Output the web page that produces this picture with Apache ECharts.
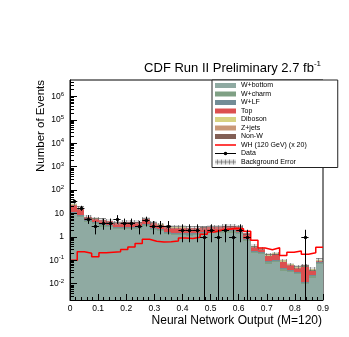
<!DOCTYPE html>
<html>
<head>
<meta charset="utf-8">
<script src="https://cdn.jsdelivr.net/npm/echarts@6/dist/echarts.min.js"></script>
<style>
html, body { margin: 0; padding: 0; background: #fff; }
#chart { width: 349px; height: 337px; }
</style>
</head>
<body>
<div id="chart"></div>
<script>
// axis ranges / binning
var X_MIN = 0, X_MAX = 0.9, N_BINS = 35;
var Y_MIN = 0.002, Y_MAX = 5e6;
var FONT = 'Liberation Sans, Arial, Helvetica, sans-serif';

// background components (events per bin), stacked bottom -> top
var wBottom = [9.4, 6.8, 4.2, 3.4, 2.7, 2.6, 2.2, 2.2, 2.1, 2.1, 2.9, 1.9, 1.7, 1.3, 1.2, 1.2, 1.1, 1.2, 1.3, 1.4, 1.4, 1.5, 1.5, 1.3, 0.64, 0.2, 0.18, 0.072, 0.08, 0.036, 0.032, 0.026, 0.0096, 0.018, 0.068];
var wCharm = [1.2, 0.85, 0.5, 0.4, 0.35, 0.3, 0.25, 0.25, 0.25, 0.25, 0.35, 0.25, 0.2, 0.15, 0.15, 0.15, 0.15, 0.15, 0.17, 0.15, 0.17, 0.2, 0.2, 0.17, 0.08, 0.025, 0.02, 0.009, 0.01, 0.0045, 0.004, 0.003, 0.0012, 0.0025, 0.0085];
var wLF = [1.2, 0.85, 0.5, 0.4, 0.35, 0.3, 0.25, 0.25, 0.25, 0.25, 0.35, 0.25, 0.2, 0.15, 0.15, 0.15, 0.15, 0.15, 0.18, 0.15, 0.18, 0.2, 0.2, 0.18, 0.08, 0.025, 0.02, 0.009, 0.01, 0.0045, 0.004, 0.003, 0.0012, 0.0025, 0.0085];
var topQuark = [11.5, 8.2, 1.85, 1.85, 1.65, 1.4, 1.2, 1.58, 1.66, 1.58, 2.2, 1.47, 1.2, 1.0, 1.0, 1.0, 0.92, 0.87, 0.78, 0.92, 0.87, 1.01, 1.01, 0.97, 0.64, 0.115, 0.08, 0.066, 0.077, 0.041, 0.02, 0.016, 0.04, 0.013, 0.012];
var diboson = [0.9, 0.6, 0.12, 0.12, 0.11, 0.09, 0.08, 0.1, 0.11, 0.1, 0.15, 0.1, 0.08, 0.07, 0.07, 0.07, 0.06, 0.06, 0.06, 0.06, 0.06, 0.07, 0.07, 0.07, 0.05, 0.03, 0.018, 0.02, 0.02, 0.012, 0.006, 0.005, 0.007, 0.005, 0.003];
var zJets = [0.18, 0.13, 0.02, 0.02, 0.025, 0.01, 0.012, 0.015, 0.02, 0.015, 0.03, 0.02, 0.015, 0.01, 0.01, 0.01, 0.01, 0.01, 0.007, 0.01, 0.01, 0.012, 0.01, 0.01, 0.006, 0.003, 0.0015, 0.0015, 0.0015, 0.001, 0.0005, 0.0005, 0.0005, 0.0005, 0.0005];
var nonW = [0.12, 0.08, 0.015, 0.015, 0.015, 0.01, 0.01, 0.01, 0.015, 0.01, 0.02, 0.015, 0.01, 0.01, 0.01, 0.01, 0.008, 0.008, 0.007, 0.008, 0.008, 0.008, 0.01, 0.008, 0.004, 0.002, 0.001, 0.001, 0.001, 0.0005, 0.0005, 0.0003, 0.0005, 0.0003, 0.0003];
// total background uncertainty (absolute)
var bkgErr = [4.4, 3.2, 1.3, 1.1, 0.95, 0.85, 0.72, 0.8, 0.8, 0.78, 1.1, 0.72, 0.62, 0.5, 0.47, 0.47, 0.44, 0.44, 0.45, 0.5, 0.5, 0.54, 0.54, 0.5, 0.27, 0.072, 0.058, 0.033, 0.036, 0.018, 0.012, 0.01, 0.011, 0.008, 0.018];
// WH signal x 20
var whSignal = [0.1, 0.23, 0.2, 0.14, 0.21, 0.22, 0.23, 0.29, 0.37, 0.52, 0.78, 0.65, 0.6, 0.62, 0.66, 0.9, 0.85, 0.95, 1.3, 1.6, 1.9, 2.1, 2.3, 2.2, 1.75, 0.72, 0.33, 0.28, 0.34, 0.16, 0.22, 0.25, 0.18, 0.21, 0.36];
// observed counts
var dataCounts = [33, 17, 6, 3, 4, 4, 6, 4, 4, 3, 5, 3, 3, 3, 0, 2, 2, 2, 1, 2, 1, 2, 1, 2, 1, 0, 0, 0, 0, 0, 0, 0, 1, 0, 0];

var components = [
    { name: 'W+bottom', values: wBottom, color: '#8faaa2' },
    { name: 'W+charm', values: wCharm, color: '#7fa084' },
    { name: 'W+LF', values: wLF, color: '#738c96' },
    { name: 'Top', values: topQuark, color: '#dc5050' },
    { name: 'Diboson', values: diboson, color: '#d7d282' },
    { name: 'Z+jets', values: zJets, color: '#c99878' },
    { name: 'Non-W', values: nonW, color: '#825f55' }
];

function binEdge(i) {
    return X_MIN + (X_MAX - X_MIN) * i / N_BINS;
}

function hatchCanvas() {
    var c = document.createElement('canvas');
    c.width = 4;
    c.height = 4;
    var g = c.getContext('2d');
    g.fillStyle = 'rgba(170,170,170,0.35)';
    g.fillRect(0, 0, 4, 4);
    g.fillStyle = 'rgba(80,80,80,0.55)';
    g.fillRect(0, 2, 4, 1);
    g.fillRect(2, 0, 1, 4);
    return c;
}
var hatch = { image: hatchCanvas(), repeat: 'repeat' };

// pixel-snapped rect between [x0, x1] and [lo, hi]
function binShape(api) {
    var p0 = api.coord([api.value(0), api.value(3)]);
    var p1 = api.coord([api.value(1), api.value(2)]);
    var x0 = Math.round(p0[0]);
    var x1 = Math.round(p1[0]);
    var y0 = Math.round(p0[1]);
    var y1 = Math.round(p1[1]);
    return { x: x0, y: y0, width: x1 - x0, height: y1 - y0 };
}

function renderBin(params, api) {
    return {
        type: 'rect',
        shape: binShape(api),
        style: { fill: api.visual('color') }
    };
}

function renderErr(params, api) {
    return {
        type: 'rect',
        shape: binShape(api),
        style: { fill: hatch }
    };
}

function renderData(params, api) {
    var n = api.value(2);
    if (!n) {
        return null;
    }
    var xl = api.value(0);
    var xr = api.value(1);
    var xc = (xl + xr) / 2;
    var err = Math.sqrt(n);
    var pc = api.coord([xc, n]);
    var pl = api.coord([xl, n]);
    var pr = api.coord([xr, n]);
    var pt = api.coord([xc, n + err]);
    var pb = api.coord([xc, Math.max(n - err, Y_MIN)]);
    var cx = Math.round(pc[0]) + 0.5;
    var cy = Math.round(pc[1]) + 0.5;
    var ls = { stroke: '#000', lineWidth: 1 };
    return {
        type: 'group',
        children: [
            { type: 'line', shape: { x1: cx, y1: pt[1], x2: cx, y2: pb[1] }, style: ls },
            { type: 'line', shape: { x1: pl[0], y1: cy, x2: pr[0], y2: cy }, style: ls },
            { type: 'circle', shape: { cx: cx, cy: cy, r: 1.7 }, style: { fill: '#000' } }
        ]
    };
}

// log-axis minor ticks (2..9 in each decade)
function renderMinorTick(params, api) {
    var p = api.coord([X_MIN, api.value(1)]);
    var y = Math.round(p[1]) + 0.5;
    return {
        type: 'line',
        shape: { x1: p[0], y1: y, x2: p[0] + 4, y2: y },
        style: { stroke: '#000', lineWidth: 1 }
    };
}

function powLabel(v) {
    var e = Math.round(Math.log(v) / Math.LN10);
    if (e === 0) {
        return '1';
    }
    if (e === 1) {
        return '10';
    }
    return '10{e|' + e + '}';
}

var series = [];
var cum = [];
for (var i = 0; i < N_BINS; i++) {
    cum.push(0);
}
components.forEach(function (c) {
    var rows = [];
    for (var i = 0; i < N_BINS; i++) {
        var lo = cum[i];
        cum[i] += c.values[i];
        rows.push([binEdge(i), binEdge(i + 1), Math.max(lo, Y_MIN), cum[i]]);
    }
    series.push({
        type: 'custom',
        name: c.name,
        renderItem: renderBin,
        itemStyle: { color: c.color },
        encode: { x: [0, 1], y: [2, 3] },
        silent: true,
        z: 2,
        data: rows
    });
});

var errRows = [];
for (var i = 0; i < N_BINS; i++) {
    errRows.push([binEdge(i), binEdge(i + 1), Math.max(cum[i] - bkgErr[i], Y_MIN), cum[i] + bkgErr[i]]);
}
series.push({
    type: 'custom',
    name: 'Background Error',
    renderItem: renderErr,
    itemStyle: { color: hatch },
    encode: { x: [0, 1], y: [2, 3] },
    silent: true,
    z: 3,
    data: errRows
});

var whRows = [];
for (var i = 0; i < N_BINS; i++) {
    whRows.push([binEdge(i), whSignal[i]]);
}
whRows.push([X_MAX, whSignal[N_BINS - 1]]);
series.push({
    type: 'line',
    name: 'WH (120 GeV) (x 20)',
    step: 'end',
    symbol: 'none',
    lineStyle: { color: '#ff0000', width: 1.5 },
    itemStyle: { color: '#ff0000' },
    silent: true,
    z: 4,
    data: whRows
});

var dataRows = [];
for (var i = 0; i < N_BINS; i++) {
    dataRows.push([binEdge(i), binEdge(i + 1), dataCounts[i]]);
}
series.push({
    type: 'custom',
    name: 'Data',
    renderItem: renderData,
    itemStyle: { color: '#000' },
    encode: { x: [0, 1], y: 2 },
    silent: true,
    z: 5,
    data: dataRows
});

var minorRows = [];
for (var e = -3; e <= 6; e++) {
    for (var k = 2; k <= 9; k++) {
        var v = k * Math.pow(10, e);
        if (v > Y_MIN && v < Y_MAX) {
            minorRows.push([X_MIN, v]);
        }
    }
}
series.push({
    type: 'custom',
    name: 'minorTicks',
    renderItem: renderMinorTick,
    silent: true,
    z: 10,
    data: minorRows
});

var chart = echarts.init(document.getElementById('chart'));
chart.setOption({
    animation: false,
    backgroundColor: '#fff',
    textStyle: { fontFamily: FONT },
    grid: {
        left: 70, top: 80, width: 253, height: 220,
        show: true, borderColor: '#000', borderWidth: 1, backgroundColor: 'transparent'
    },
    legend: {
        orient: 'vertical',
        left: 212,
        top: 80,
        padding: [2, 31, 2, 3],
        itemWidth: 21,
        itemHeight: 5,
        itemGap: 1.5,
        icon: 'rect',
        symbolKeepAspect: true,
        selectedMode: false,
        borderColor: '#222',
        borderWidth: 1,
        backgroundColor: '#fff',
        z: 20,
        textStyle: { fontSize: 7, fontFamily: FONT, color: '#000' },
        data: [
            'W+bottom', 'W+charm', 'W+LF', 'Top', 'Diboson', 'Z+jets', 'Non-W',
            { name: 'WH (120 GeV) (x 20)', icon: 'path://M0,0 H21 V1.5 H0 Z' },
            { name: 'Data', icon: 'path://M0,2 H21 V3 H0 Z M8.7,2.5 A1.8,1.8 0 1,1 12.3,2.5 A1.8,1.8 0 1,1 8.7,2.5 Z' },
            'Background Error'
        ]
    },
    xAxis: {
        type: 'value',
        min: X_MIN,
        max: X_MAX,
        interval: 0.1,
        z: 10,
        axisLine: { show: true, lineStyle: { color: '#000', width: 1 } },
        axisTick: { show: true, inside: true, length: 6, lineStyle: { color: '#000' } },
        minorTick: { show: true, splitNumber: 5, length: 3, lineStyle: { color: '#000' } },
        splitLine: { show: false },
        axisLabel: {
            margin: 4,
            fontSize: 8.5,
            color: '#000',
            fontFamily: FONT,
            formatter: function (v) {
                return v === 0 ? '0' : v.toFixed(1);
            }
        }
    },
    yAxis: {
        type: 'log',
        logBase: 10,
        min: Y_MIN,
        max: Y_MAX,
        z: 10,
        axisLine: { show: true, lineStyle: { color: '#000', width: 1 } },
        axisTick: { show: true, inside: true, length: 7, lineStyle: { color: '#000' } },
        minorTick: { show: false },
        splitLine: { show: false },
        axisLabel: {
            margin: 6,
            fontSize: 8.5,
            color: '#000',
            fontFamily: FONT,
            showMinLabel: false,
            showMaxLabel: false,
            formatter: powLabel,
            rich: {
                e: { fontSize: 6, padding: [0, 0, 5, 0], fontFamily: FONT, color: '#000' }
            }
        }
    },
    graphic: [
        {
            type: 'text',
            x: 321,
            y: 76,
            style: {
                text: '{m|CDF Run II Preliminary 2.7 fb}{s|-1}',
                align: 'right',
                verticalAlign: 'bottom',
                rich: {
                    m: { fontSize: 13, fontFamily: FONT, fill: '#000' },
                    s: { fontSize: 8, fontFamily: FONT, fill: '#000', padding: [0, 0, 8, 0] }
                }
            }
        },
        {
            type: 'text',
            x: 322,
            y: 321,
            style: {
                text: 'Neural Network Output (M=120)',
                align: 'right',
                verticalAlign: 'middle',
                fontSize: 12,
                fontFamily: FONT,
                fill: '#000'
            }
        },
        {
            type: 'text',
            x: 41,
            y: 80,
            rotation: Math.PI / 2,
            style: {
                text: 'Number of Events',
                align: 'right',
                verticalAlign: 'middle',
                fontSize: 11.5,
                fontFamily: FONT,
                fill: '#000'
            }
        }
    ],
    series: series
});
</script>
</body>
</html>
